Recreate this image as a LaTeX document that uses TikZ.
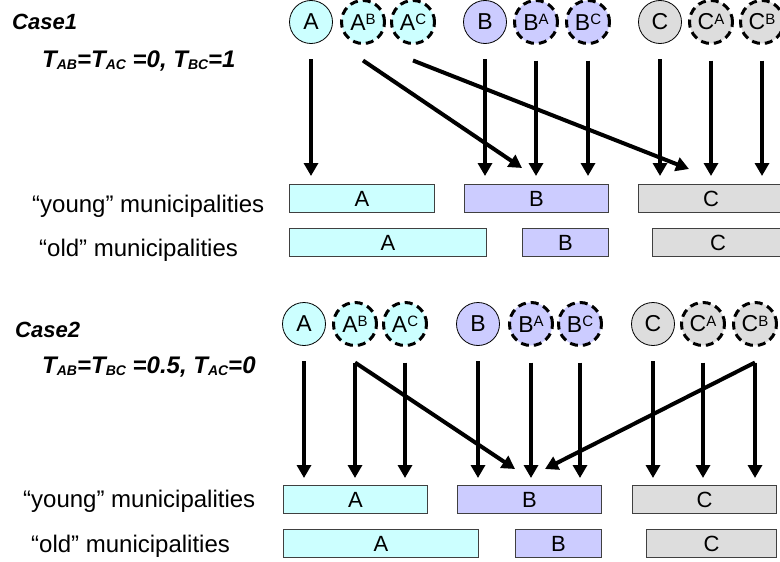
\documentclass[tikz,border=0pt]{standalone}
\usepackage{fontspec}
\setmainfont{Liberation Sans}
\usetikzlibrary{arrows.meta,calc}
\definecolor{cyanL}{HTML}{CCFFFF}
\definecolor{lavL}{HTML}{CCCCFF}
\definecolor{grayL}{HTML}{DDDDDD}
\newcommand\sps[1]{\raisebox{5.8pt}{\fontsize{15}{15}\selectfont #1}}
\newcommand\sbs[1]{\raisebox{-2.5pt}{\fontsize{14}{14}\selectfont #1}}
\begin{document}
\begin{tikzpicture}[x=1pt,y=-1pt,
  circ/.style={circle,draw=black,line width=0.8pt,minimum size=43pt,inner sep=0pt,font=\fontsize{23}{23}\selectfont},
  dcirc/.style={circ,line width=3pt,minimum size=43pt,dash pattern=on 8pt off 5pt},
  bar/.style={draw=black!75,line width=1pt,minimum height=28pt,inner sep=0pt,font=\fontsize{22}{22}\selectfont},
  arr/.style={line width=4pt,-{Triangle[length=13pt,width=14pt]}},
  lbl/.style={anchor=base west,inner sep=0pt,font=\fontsize{24}{24}\selectfont},
  ttl/.style={anchor=base west,inner sep=0pt,font=\fontsize{22}{22}\selectfont\bfseries\itshape},
  frm/.style={anchor=base west,inner sep=0pt,font=\fontsize{24}{24}\selectfont\bfseries\itshape}]
\clip (0,0) rectangle (780,562);
\fill[white] (0,0) rectangle (780,562);

% ---------- Case 1 ----------
\node[ttl] (t1) at (12,29) {Case1};
\node[frm] (f1) at (42,67) {T\sbs{AB}=T\sbs{AC} =0, T\sbs{BC}=1};

\node[circ,fill=cyanL]  (c1A)  at (311,22) {A};
\node[dcirc,fill=cyanL] (c1AB) at (363,22) {A\sps{B}};
\node[dcirc,fill=cyanL] (c1AC) at (413,22) {A\sps{C}};
\node[circ,fill=lavL]   (c1B)  at (485,22) {B};
\node[dcirc,fill=lavL]  (c1BA) at (536,22) {B\sps{A}};
\node[dcirc,fill=lavL]  (c1BC) at (588,22) {B\sps{C}};
\node[circ,fill=grayL]  (c1C)  at (660,22) {C};
\node[dcirc,fill=grayL] (c1CA) at (711,22) {C\sps{A}};
\node[dcirc,fill=grayL] (c1CB) at (762,22) {C\sps{B}};

\node[lbl] (l1y) at (32,212) {“young” municipalities};
\node[lbl] (l1o) at (39,256) {“old” municipalities};

\node[bar,fill=cyanL,minimum width=145pt] (y1A) at (362,198.5) {A};
\node[bar,fill=lavL,minimum width=144pt]  (y1B) at (536.5,198.5) {B};
\node[bar,fill=grayL,minimum width=145pt] (y1C) at (711,198.5) {C};
\node[bar,fill=cyanL,minimum width=197pt] (o1A) at (388,242.5) {A};
\node[bar,fill=lavL,minimum width=86pt]   (o1B) at (565.5,242.5) {B};
\node[bar,fill=grayL,minimum width=131pt] (o1C) at (718,242.5) {C};

\foreach \c/\b in {c1A/y1A,c1B/y1B,c1BA/y1B,c1BC/y1B,c1C/y1C,c1CA/y1C,c1CB/y1C}{
  \draw[arr] ([yshift=-15.5pt]\c.south) -- ($(\c.south |- \b.north)+(0,-8)$);
}
\draw[arr] ([yshift=-15.5pt]c1AB.south) -- ($(y1B.north)+(-14.5,-16)$);
\draw[arr] ([yshift=-15.5pt]c1AC.south) -- ($(y1C.north)+(-22,-15)$);

% ---------- Case 2 ----------
\node[ttl] (t2) at (15,337) {Case2};
\node[frm] (f2) at (42,373) {T\sbs{AB}=T\sbs{BC} =0.5, T\sbs{AC}=0};

\node[circ,fill=cyanL]  (c2A)  at (304,324) {A};
\node[dcirc,fill=cyanL] (c2AB) at (355,324) {A\sps{B}};
\node[dcirc,fill=cyanL] (c2AC) at (405,324) {A\sps{C}};
\node[circ,fill=lavL]   (c2B)  at (478,324) {B};
\node[dcirc,fill=lavL]  (c2BA) at (531,324) {B\sps{A}};
\node[dcirc,fill=lavL]  (c2BC) at (580,324) {B\sps{C}};
\node[circ,fill=grayL]  (c2C)  at (653,324) {C};
\node[dcirc,fill=grayL] (c2CA) at (703,324) {C\sps{A}};
\node[dcirc,fill=grayL] (c2CB) at (755,324) {C\sps{B}};

\node[lbl] (l2y) at (23,507) {“young” municipalities};
\node[lbl] (l2o) at (31,552) {“old” municipalities};

\node[bar,fill=cyanL,minimum width=144pt] (y2A) at (355.5,499.5) {A};
\node[bar,fill=lavL,minimum width=144pt]  (y2B) at (529.5,499.5) {B};
\node[bar,fill=grayL,minimum width=144pt] (y2C) at (704.5,499.5) {C};
\node[bar,fill=cyanL,minimum width=195pt] (o2A) at (381,543.5) {A};
\node[bar,fill=lavL,minimum width=86pt]   (o2B) at (558.5,543.5) {B};
\node[bar,fill=grayL,minimum width=130pt] (o2C) at (711.5,543.5) {C};

\foreach \c/\b in {c2A/y2A,c2AB/y2A,c2AC/y2A,c2B/y2B,c2BA/y2B,c2BC/y2B,c2C/y2C,c2CA/y2C,c2CB/y2C}{
  \draw[arr] ([yshift=-15.5pt]\c.south) -- ($(\c.south |- \b.north)+(0,-7)$);
}
\draw[arr] ([yshift=-15.5pt]c2AB.south) -- ($(y2B.north)+(-14.5,-16)$);
\draw[arr] ([yshift=-15.5pt]c2CB.south) -- ($(y2B.north)+(15.5,-16)$);
\end{tikzpicture}
\end{document}
